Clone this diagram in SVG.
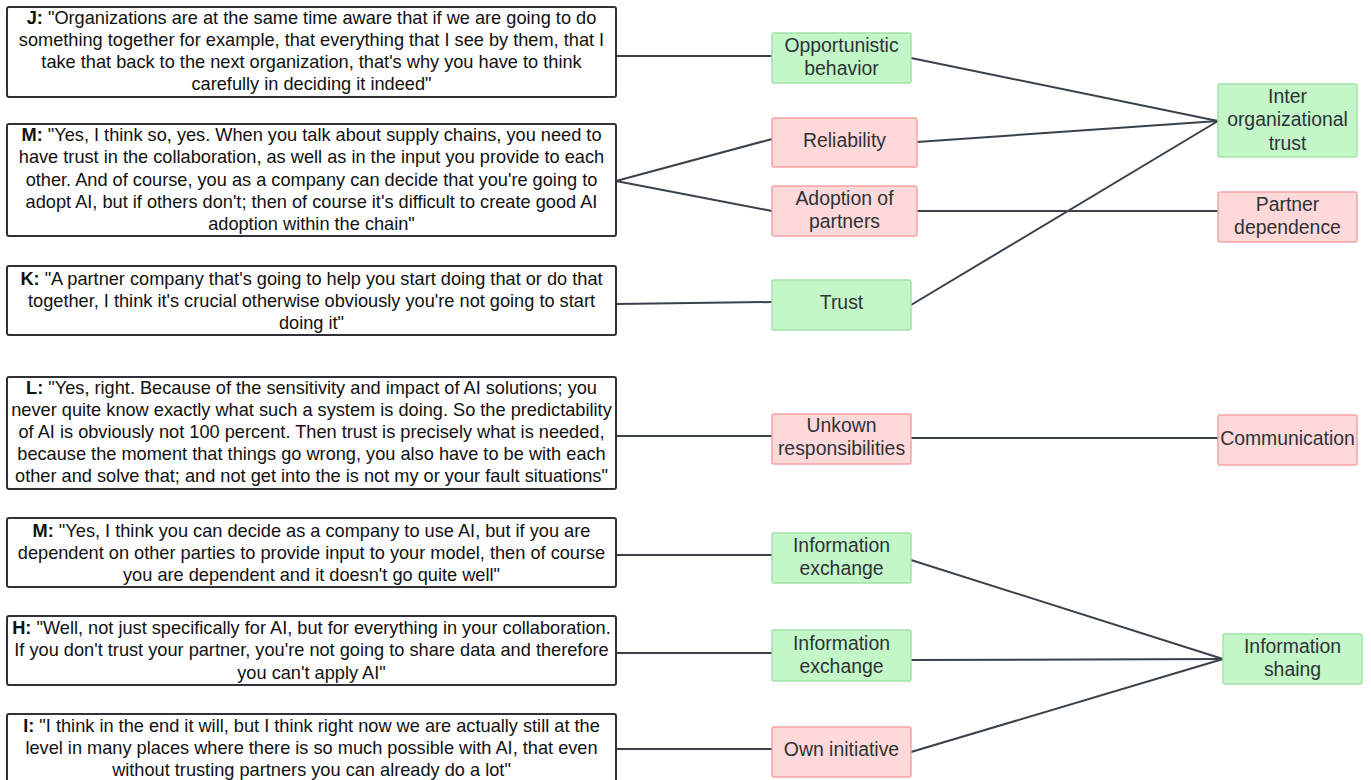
<svg xmlns="http://www.w3.org/2000/svg" width="1371" height="780" viewBox="0 0 1371 780">
<style>
.q{fill:#fff;stroke:#2e3238;stroke-width:2}
.qt{font-family:"Liberation Sans",Arial,sans-serif;font-size:18.2px;fill:#111;text-anchor:middle}
.qt tspan.b{font-weight:bold}
.g{fill:#c3f7c8;stroke:#a2e3a8;stroke-width:1.5}
.p{fill:#ffd9d9;stroke:#f5a3a3;stroke-width:1.5}
.nt{font-family:"Liberation Sans",Arial,sans-serif;font-size:19.4px;fill:#2e3238;text-anchor:middle}
.c{stroke:#3a414a;stroke-width:2;fill:none}
</style>
<rect width="1371" height="780" fill="#fff"/>
<g id="connectors">
<line class="c" x1="616" y1="56" x2="772" y2="56"/>
<line class="c" x1="616" y1="181" x2="772" y2="139"/>
<line class="c" x1="616" y1="181" x2="772" y2="211"/>
<line class="c" x1="616" y1="304" x2="772" y2="302"/>
<line class="c" x1="616" y1="436" x2="772" y2="436"/>
<line class="c" x1="616" y1="555" x2="772" y2="555"/>
<line class="c" x1="616" y1="653" x2="772" y2="653"/>
<line class="c" x1="616" y1="749" x2="772" y2="749"/>
<line class="c" x1="911" y1="58" x2="1218" y2="121"/>
<line class="c" x1="917" y1="142" x2="1218" y2="121"/>
<line class="c" x1="911" y1="305" x2="1218" y2="121"/>
<line class="c" x1="917" y1="211" x2="1218" y2="211"/>
<line class="c" x1="911" y1="438" x2="1218" y2="438"/>
<line class="c" x1="911" y1="560" x2="1223" y2="659"/>
<line class="c" x1="911" y1="660" x2="1223" y2="659"/>
<line class="c" x1="911" y1="752" x2="1223" y2="659"/>
</g>
<g id="quoteJ"><rect class="q" x="7" y="7" width="609" height="90" rx="2"/>
<text class="qt"><tspan x="311.5" y="24"><tspan class="b">J:</tspan> "Organizations are at the same time aware that if we are going to do</tspan><tspan x="311.5" y="46">something together for example, that everything that I see by them, that I</tspan><tspan x="311.5" y="68">take that back to the next organization, that's why you have to think</tspan><tspan x="311.5" y="90">carefully in deciding it indeed"</tspan></text></g>
<g id="quoteM1"><rect class="q" x="7" y="124" width="609" height="112" rx="2"/>
<text class="qt"><tspan x="311.5" y="141"><tspan class="b">M:</tspan> "Yes, I think so, yes. When you talk about supply chains, you need to</tspan><tspan x="311.5" y="163">have trust in the collaboration, as well as in the input you provide to each</tspan><tspan x="311.5" y="186">other. And of course, you as a company can decide that you're going to</tspan><tspan x="311.5" y="208">adopt AI, but if others don't; then of course it's difficult to create good AI</tspan><tspan x="311.5" y="230">adoption within the chain"</tspan></text></g>
<g id="quoteK"><rect class="q" x="7" y="266" width="609" height="69" rx="2"/>
<text class="qt"><tspan x="311.5" y="285"><tspan class="b">K:</tspan> "A partner company that's going to help you start doing that or do that</tspan><tspan x="311.5" y="307">together, I think it's crucial otherwise obviously you're not going to start</tspan><tspan x="311.5" y="329">doing it"</tspan></text></g>
<g id="quoteL"><rect class="q" x="7" y="377" width="609" height="112" rx="2"/>
<text class="qt"><tspan x="311.5" y="394"><tspan class="b">L:</tspan> "Yes, right. Because of the sensitivity and impact of AI solutions; you</tspan><tspan x="311.5" y="416">never quite know exactly what such a system is doing. So the predictability</tspan><tspan x="311.5" y="438">of AI is obviously not 100 percent. Then trust is precisely what is needed,</tspan><tspan x="311.5" y="460">because the moment that things go wrong, you also have to be with each</tspan><tspan x="311.5" y="482">other and solve that; and not get into the is not my or your fault situations"</tspan></text></g>
<g id="quoteM2"><rect class="q" x="7" y="518" width="609" height="69" rx="2"/>
<text class="qt"><tspan x="311.5" y="537"><tspan class="b">M:</tspan> "Yes, I think you can decide as a company to use AI, but if you are</tspan><tspan x="311.5" y="559">dependent on other parties to provide input to your model, then of course</tspan><tspan x="311.5" y="581">you are dependent and it doesn't go quite well"</tspan></text></g>
<g id="quoteH"><rect class="q" x="7" y="616" width="609" height="69" rx="2"/>
<text class="qt"><tspan x="311.5" y="634"><tspan class="b">H:</tspan> "Well, not just specifically for AI, but for everything in your collaboration.</tspan><tspan x="311.5" y="656">If you don't trust your partner, you're not going to share data and therefore</tspan><tspan x="311.5" y="679">you can't apply AI"</tspan></text></g>
<g id="quoteI"><rect class="q" x="7" y="714" width="609" height="80" rx="2"/>
<text class="qt"><tspan x="311.5" y="732"><tspan class="b">I:</tspan> "I think in the end it will, but I think right now we are actually still at the</tspan><tspan x="311.5" y="754">level in many places where there is so much possible with AI, that even</tspan><tspan x="311.5" y="776">without trusting partners you can already do a lot"</tspan></text></g>
<g id="opportunistic"><rect class="g" x="772" y="33" width="139" height="50" rx="2"/><text class="nt"><tspan x="841.5" y="52">Opportunistic</tspan><tspan x="841.5" y="75">behavior</tspan></text></g>
<g id="reliability"><rect class="p" x="772" y="118" width="145" height="49" rx="2"/><text class="nt" x="844.5" y="147">Reliability</text></g>
<g id="adoption"><rect class="p" x="772" y="186" width="145" height="50" rx="2"/><text class="nt"><tspan x="844.5" y="205">Adoption of</tspan><tspan x="844.5" y="228">partners</tspan></text></g>
<g id="trust"><rect class="g" x="772" y="280" width="139" height="50" rx="2"/><text class="nt" x="841.5" y="309">Trust</text></g>
<g id="unkown"><rect class="p" x="772" y="414" width="139" height="50" rx="2"/><text class="nt"><tspan x="841.5" y="432">Unkown</tspan><tspan x="841.5" y="455">responsibilities</tspan></text></g>
<g id="infoex1"><rect class="g" x="772" y="533" width="139" height="50" rx="2"/><text class="nt"><tspan x="841.5" y="552">Information</tspan><tspan x="841.5" y="575">exchange</tspan></text></g>
<g id="infoex2"><rect class="g" x="772" y="630" width="139" height="51" rx="2"/><text class="nt"><tspan x="841.5" y="650">Information</tspan><tspan x="841.5" y="673">exchange</tspan></text></g>
<g id="owninitiative"><rect class="p" x="772" y="727" width="139" height="50" rx="2"/><text class="nt" x="841.5" y="756">Own initiative</text></g>
<g id="interorg"><rect class="g" x="1218" y="84" width="139" height="73" rx="2"/><text class="nt"><tspan x="1287.5" y="103">Inter</tspan><tspan x="1287.5" y="126">organizational</tspan><tspan x="1287.5" y="150">trust</tspan></text></g>
<g id="partnerdep"><rect class="p" x="1218" y="192" width="139" height="50" rx="2"/><text class="nt"><tspan x="1287.5" y="211">Partner</tspan><tspan x="1287.5" y="234">dependence</tspan></text></g>
<g id="communication"><rect class="p" x="1218" y="415" width="139" height="50" rx="2"/><text class="nt" x="1287.5" y="445">Communication</text></g>
<g id="infoshaing"><rect class="g" x="1223" y="634" width="139" height="50" rx="2"/><text class="nt"><tspan x="1292.5" y="653">Information</tspan><tspan x="1292.5" y="676">shaing</tspan></text></g>
</svg>
